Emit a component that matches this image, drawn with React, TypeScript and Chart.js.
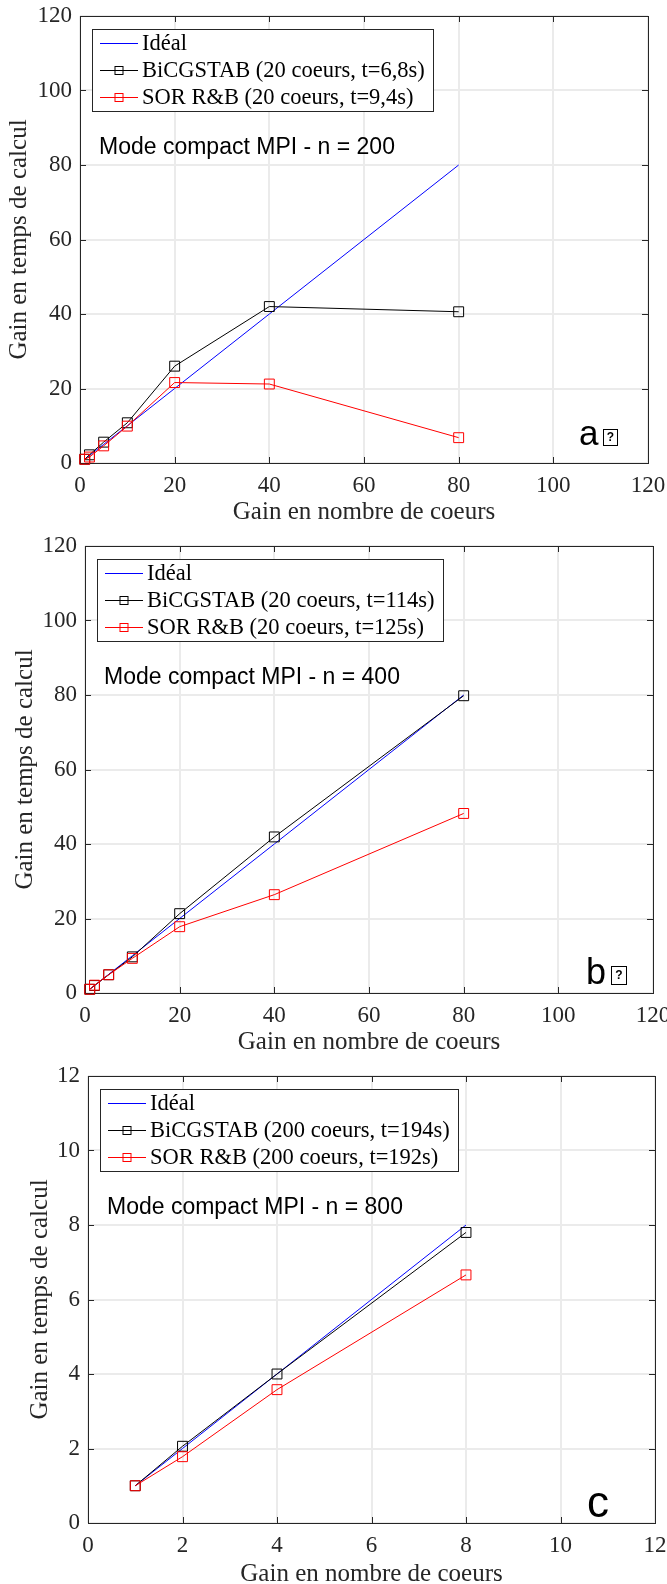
import React, { useEffect, useRef } from 'react';
import { Chart, registerables } from 'chart.js';

Chart.register(...registerables);

// ---------- data ----------
const coresA = [1, 2, 5, 10, 20, 40, 80];
const idealA = [1, 2, 5, 10, 20, 40, 80];
const bicgA = [1, 2.2, 5.6, 10.8, 26, 42, 40.6];
const sorA = [1, 1.6, 4.6, 9.9, 21.6, 21.2, 6.8];

const coresB = [1, 2, 5, 10, 20, 40, 80];
const idealB = [1, 2, 5, 10, 20, 40, 80];
const bicgB = [1, 2.0, 4.9, 9.7, 21.3, 41.9, 79.8];
const sorB = [1, 2.1, 4.9, 9.3, 17.8, 26.4, 48.2];

const coresC = [1, 2, 4, 8];
const idealC = [1, 2, 4, 8];
const bicgC = [1, 2.06, 4.0, 7.8];
const sorC = [1, 1.78, 3.58, 6.66];

const ticksAB = [0, 20, 40, 60, 80, 100, 120];
const ticksC = [0, 2, 4, 6, 8, 10, 12];

const legendA = ['Idéal', 'BiCGSTAB (20 coeurs, t=6,8s)', 'SOR R&B (20 coeurs, t=9,4s)'];
const legendB = ['Idéal', 'BiCGSTAB (20 coeurs, t=114s)', 'SOR R&B (20 coeurs, t=125s)'];
const legendC = ['Idéal', 'BiCGSTAB (200 coeurs, t=194s)', 'SOR R&B (200 coeurs, t=192s)'];

const noteA = 'Mode compact MPI - n = 200';
const noteB = 'Mode compact MPI - n = 400';
const noteC = 'Mode compact MPI - n = 800';

const xTitle = 'Gain en nombre de coeurs';
const yTitle = 'Gain en temps de calcul';

const SERIF = '"Liberation Serif", "Times New Roman", serif';
const SANS = '"Liberation Sans", Arial, sans-serif';

type Panel = {
  top: number; h: number; padRight: number; yAxisW: number; xAxisH: number;
  yTitlePad: number; xTitlePad: number;
  cores: number[]; ideal: number[]; bicg: number[]; sor: number[];
  ticks: number[]; legend: string[]; note: string;
  letter: string; letterFont: string; letterDx: number; letterDy: number;
  tofu: null | { dx: number; w: number; h: number; dy: number };
};

const panels: Panel[] = [
  {
    top: 0, h: 530, padRight: 19, yAxisW: 80, xAxisH: 67, yTitlePad: 9, xTitlePad: 8,
    cores: coresA, ideal: idealA, bicg: bicgA, sor: sorA, ticks: ticksAB, legend: legendA, note: noteA,
    letter: 'a', letterFont: '35px ' + SANS, letterDx: 69, letterDy: 18,
    tofu: { dx: 45, w: 14, h: 16, dy: 18 },
  },
  {
    top: 530, h: 530, padRight: 14, yAxisW: 85, xAxisH: 67, yTitlePad: 15, xTitlePad: 8,
    cores: coresB, ideal: idealB, bicg: bicgB, sor: sorB, ticks: ticksAB, legend: legendB, note: noteB,
    letter: 'b', letterFont: '36px ' + SANS, letterDx: 67, letterDy: 9,
    tofu: { dx: 42, w: 15, h: 18, dy: 9 },
  },
  {
    top: 1060, h: 524, padRight: 12, yAxisW: 88, xAxisH: 61, yTitlePad: 30, xTitlePad: 0,
    cores: coresC, ideal: idealC, bicg: bicgC, sor: sorC, ticks: ticksC, legend: legendC, note: noteC,
    letter: 'c', letterFont: '44px "Liberation Sans Narrow", ' + SANS, letterDx: 68, letterDy: 6,
    tofu: null,
  },
];

function makeDecor(p: Panel) {
  return {
    id: 'matlabDecor',
    beforeDatasetsDraw(chart: any) {
      const { ctx, chartArea: a, scales } = chart;
      ctx.save();
      ctx.strokeStyle = '#262626';
      ctx.lineWidth = 1;
      ctx.beginPath();
      for (const v of p.ticks) {
        const x = Math.round(scales.x.getPixelForValue(v)) + 0.5;
        ctx.moveTo(x, a.bottom); ctx.lineTo(x, a.bottom - 6);
        ctx.moveTo(x, a.top); ctx.lineTo(x, a.top + 6);
        const y = Math.round(scales.y.getPixelForValue(v)) + 0.5;
        ctx.moveTo(a.left, y); ctx.lineTo(a.left + 6, y);
        ctx.moveTo(a.right, y); ctx.lineTo(a.right - 6, y);
      }
      ctx.stroke();
      ctx.strokeRect(Math.round(a.left) + 0.5, Math.round(a.top) + 0.5,
        Math.round(a.right - a.left), Math.round(a.bottom - a.top));
      ctx.restore();
    },
    afterDraw(chart: any) {
      const { ctx, chartArea: a } = chart;
      ctx.save();
      // legend
      const ds = chart.data.datasets;
      ctx.font = '22.5px ' + SERIF;
      const maxW = Math.max(...ds.map((d: any) => ctx.measureText(d.label).width));
      const bx = Math.round(a.left + 12), by = Math.round(a.top + 13);
      const bw = Math.round(58 + maxW), bh = 82;
      ctx.fillStyle = '#ffffff';
      ctx.fillRect(bx, by, bw, bh);
      ctx.strokeStyle = '#262626';
      ctx.lineWidth = 1;
      ctx.strokeRect(bx + 0.5, by + 0.5, bw, bh);
      ds.forEach((d: any, i: number) => {
        const y = Math.round(by + 14.3 + i * 26.7) + 0.5;
        ctx.strokeStyle = d.borderColor;
        ctx.lineWidth = 1;
        ctx.beginPath();
        ctx.moveTo(bx + 8, y); ctx.lineTo(bx + 46, y);
        ctx.stroke();
        if (d.pointRadius > 0) {
          ctx.strokeRect(bx + 23, y - 4, 8, 8);
        }
        ctx.fillStyle = '#000000';
        ctx.textBaseline = 'middle';
        ctx.textAlign = 'left';
        ctx.fillText(d.label, bx + 50, y + 1);
      });
      // note
      ctx.font = '23px ' + SANS;
      ctx.fillStyle = '#000000';
      ctx.textBaseline = 'alphabetic';
      ctx.fillText(p.note, a.left + 19, a.top + 138);
      // panel letter
      ctx.font = p.letterFont;
      ctx.fillText(p.letter, a.right - p.letterDx, a.bottom - p.letterDy);
      if (p.tofu) {
        const t = p.tofu;
        const tx = Math.round(a.right - t.dx), ty = Math.round(a.bottom - t.dy - t.h);
        ctx.strokeStyle = '#000000';
        ctx.lineWidth = 1;
        ctx.strokeRect(tx + 0.5, ty + 0.5, t.w, t.h);
        ctx.font = 'bold 12px ' + SANS;
        ctx.textAlign = 'center';
        ctx.textBaseline = 'middle';
        ctx.fillText('?', tx + t.w / 2 + 0.5, ty + t.h / 2 + 1);
      }
      ctx.restore();
    },
  };
}

function PanelChart({ p }: { p: Panel }) {
  const ref = useRef<HTMLCanvasElement | null>(null);
  useEffect(() => {
    if (!ref.current) return;
    const pts = (ys: number[]) => p.cores.map((x, i) => ({ x, y: ys[i] }));
    const step = p.ticks[1] - p.ticks[0];
    const min = p.ticks[0];
    const max = p.ticks[p.ticks.length - 1];
    const tickFont = { family: SERIF, size: 23 };
    const titleFont = { family: SERIF, size: 25, lineHeight: 0.8 };
    const chart = new Chart(ref.current, {
      type: 'line',
      data: {
        datasets: [
          {
            label: p.legend[0], data: pts(p.ideal), borderColor: '#0000ff', borderWidth: 1,
            pointRadius: 0, order: 3, clip: false, tension: 0,
          },
          {
            label: p.legend[1], data: pts(p.bicg), borderColor: '#000000', borderWidth: 1,
            pointStyle: 'rect', pointRadius: 7, pointBorderWidth: 1, pointBorderColor: '#000000',
            pointBackgroundColor: 'rgba(0,0,0,0)', order: 2, clip: false, tension: 0,
          },
          {
            label: p.legend[2], data: pts(p.sor), borderColor: '#ff0000', borderWidth: 1,
            pointStyle: 'rect', pointRadius: 7, pointBorderWidth: 1, pointBorderColor: '#ff0000',
            pointBackgroundColor: 'rgba(0,0,0,0)', order: 1, clip: false, tension: 0,
          },
        ] as any,
      },
      options: {
        responsive: false,
        animation: false,
        devicePixelRatio: 1,
        layout: { padding: { left: 0, top: 16, right: p.padRight, bottom: 0 } },
        plugins: { legend: { display: false }, tooltip: { enabled: false } },
        scales: {
          x: {
            type: 'linear', min, max,
            ticks: { stepSize: step, font: tickFont, color: '#262626', padding: 9, maxRotation: 0, autoSkip: false },
            grid: { color: '#ebebeb', lineWidth: 2, drawTicks: false },
            border: { display: false },
            title: { display: true, text: xTitle, font: titleFont, color: '#262626', padding: { top: 0, bottom: p.xTitlePad } },
            afterFit: (s: any) => { s.height = p.xAxisH; s.paddingLeft = 0; s.paddingRight = 0; },
          },
          y: {
            type: 'linear', min, max,
            ticks: { stepSize: step, font: tickFont, color: '#262626', padding: 8 },
            grid: { color: '#ebebeb', lineWidth: 2, drawTicks: false },
            border: { display: false },
            title: { display: true, text: yTitle, font: titleFont, color: '#262626', padding: { top: p.yTitlePad, bottom: 0 } },
            afterFit: (s: any) => { s.width = p.yAxisW; s.paddingTop = 0; s.paddingBottom = 0; },
          },
        },
      } as any,
      plugins: [makeDecor(p)],
    });
    return () => chart.destroy();
  }, [p]);
  return (
    <canvas
      ref={ref}
      width={667}
      height={p.h}
      style={{ position: 'absolute', left: 0, top: p.top, width: 667, height: p.h, display: 'block' }}
    />
  );
}

export default function App() {
  return (
    <div style={{ position: 'absolute', left: 0, top: 0, width: 667, height: 1584, background: '#ffffff', overflow: 'hidden' }}>
      {panels.map((p, i) => (
        <PanelChart key={i} p={p} />
      ))}
    </div>
  );
}
